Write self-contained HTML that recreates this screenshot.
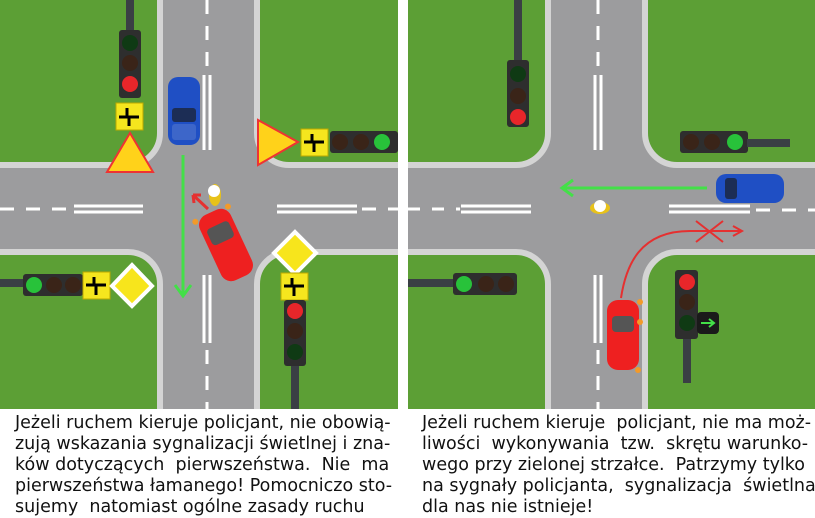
<!DOCTYPE html>
<html><head><meta charset="utf-8"><style>
html,body{margin:0;padding:0;background:#fff;width:815px;height:518px;overflow:hidden}
.t{position:absolute;font-family:"DejaVu Sans","Liberation Sans",sans-serif;font-size:17.5px;line-height:21px;color:#111;white-space:pre}
</style></head><body>
<svg width="815" height="518" style="position:absolute;left:0;top:0" xmlns="http://www.w3.org/2000/svg">
<defs>
<clipPath id="cl"><rect x="0" y="0" width="398" height="409"/></clipPath>
<clipPath id="cr"><rect x="408" y="0" width="407" height="409"/></clipPath>
</defs>

<!-- LEFT PANEL -->
<g clip-path="url(#cl)">
<rect x="0" y="0" width="398" height="409" fill="#9c9c9e"/>
<g fill="#5c9f35" stroke="#d4d4d4" stroke-width="6">
<rect x="-60" y="-60" width="220" height="225" rx="32"/>
<rect x="257" y="-60" width="220" height="225" rx="32"/>
<rect x="-60" y="252" width="220" height="220" rx="32"/>
<rect x="257" y="252" width="220" height="220" rx="32"/>
</g>
<g stroke="#fff" stroke-width="3">
<line x1="207" y1="0" x2="207" y2="72" stroke-dasharray="14,12"/>
<line x1="204" y1="75" x2="204" y2="150"/><line x1="210" y1="75" x2="210" y2="150"/>
<line x1="204" y1="275" x2="204" y2="343"/><line x1="210" y1="275" x2="210" y2="343"/>
<line x1="207" y1="350" x2="207" y2="409" stroke-dasharray="14,12"/>
<line x1="0" y1="209" x2="70" y2="209" stroke-dasharray="14,12"/>
<line x1="74" y1="206" x2="143" y2="206"/><line x1="74" y1="212" x2="143" y2="212"/>
<line x1="277" y1="206" x2="357" y2="206"/><line x1="277" y1="212" x2="357" y2="212"/>
<line x1="362" y1="209" x2="398" y2="209" stroke-dasharray="14,12"/>
</g>
<rect x="126" y="0" width="8" height="32" fill="#3a3f44"/>
<rect x="119" y="30" width="22" height="68" rx="3" fill="#2e2e2e"/>
<circle cx="130" cy="43" r="8" fill="#0f3a14"/><circle cx="130" cy="63" r="8" fill="#3a2418"/><circle cx="130" cy="84" r="8" fill="#e8262a"/>
<rect x="116" y="103" width="27" height="27" fill="#f5e61e" stroke="#bba800"/>
<path d="M129 126V117H139M119 117H127V108" stroke="#000" stroke-width="3" fill="none"/>
<polygon points="130,133 107,172 153,172" fill="#ffd21a" stroke="#e33" stroke-width="2"/>
<rect x="168" y="77" width="32" height="68" rx="10" fill="#1f4fc4"/>
<rect x="172" y="108" width="24" height="14" rx="3" fill="#1c2d55"/>
<rect x="172" y="124" width="24" height="16" rx="3" fill="#3d66c9"/>
<polygon points="298,142 258,120 258,165" fill="#ffd21a" stroke="#e33" stroke-width="2"/>
<rect x="301" y="129" width="27" height="27" fill="#f5e61e" stroke="#bba800"/>
<path d="M314 152V142H324M304 142H312V134" stroke="#000" stroke-width="3" fill="none"/>
<rect x="330" y="131" width="68" height="22" rx="3" fill="#2e2e2e"/>
<circle cx="340" cy="142" r="8" fill="#3a2418"/><circle cx="361" cy="142" r="8" fill="#3a2418"/><circle cx="382" cy="142" r="8" fill="#28c23a"/>
<path d="M183 155V295M175 285L183 296L191 285" stroke="#43e048" stroke-width="3" fill="none"/>
<ellipse cx="215" cy="195" rx="6" ry="11" fill="#e8c21a"/><circle cx="214" cy="191" r="6" fill="#fff"/>
<path d="M208 209L193 195M193 195L194 203M193 195L201 195" stroke="#e53030" stroke-width="3" fill="none"/>
<g transform="translate(226,245) rotate(-25)">
<rect x="-17" y="-36" width="34" height="72" rx="11" fill="#ee2020"/>
<rect x="-12" y="-22" width="24" height="18" rx="4" fill="#555"/>
<circle cx="-18" cy="-34" r="3" fill="#f29a2a"/><circle cx="18" cy="-34" r="3" fill="#f29a2a"/>
</g>
<rect x="0" y="279" width="25" height="8" fill="#3a3f44"/>
<rect x="23" y="274" width="60" height="22" rx="3" fill="#2e2e2e"/>
<circle cx="34" cy="285" r="8" fill="#28c23a"/><circle cx="54" cy="285" r="8" fill="#3a2418"/><circle cx="73" cy="285" r="8" fill="#3a2418"/>
<rect x="83" y="272" width="27" height="27" fill="#f5e61e" stroke="#bba800"/>
<path d="M96 295V285H106M86 285H94V277" stroke="#000" stroke-width="3" fill="none"/>
<polygon points="132,265 152,286 132,306 112,286" fill="#f7e51c" stroke="#fff" stroke-width="4"/>
<polygon points="295,232 316,253 295,274 274,253" fill="#f7e51c" stroke="#fff" stroke-width="4"/>
<rect x="281" y="273" width="27" height="27" fill="#f5e61e" stroke="#bba800"/>
<path d="M294 296V286H304M284 286H292V278" stroke="#000" stroke-width="3" fill="none"/>
<rect x="284" y="300" width="22" height="66" rx="3" fill="#2e2e2e"/>
<circle cx="295" cy="311" r="8" fill="#e8262a"/><circle cx="295" cy="331" r="8" fill="#3a2418"/><circle cx="295" cy="352" r="8" fill="#0f3a14"/>
<rect x="291" y="366" width="8" height="43" fill="#3a3f44"/>
</g>

<!-- RIGHT PANEL -->
<g clip-path="url(#cr)">
<rect x="408" y="0" width="407" height="409" fill="#9c9c9e"/>
<g fill="#5c9f35" stroke="#d4d4d4" stroke-width="6">
<rect x="350" y="-60" width="198" height="225" rx="32"/>
<rect x="645" y="-60" width="220" height="225" rx="32"/>
<rect x="350" y="252" width="198" height="220" rx="32"/>
<rect x="645" y="252" width="220" height="220" rx="32"/>
</g>
<g stroke="#fff" stroke-width="3">
<line x1="598" y1="0" x2="598" y2="68" stroke-dasharray="14,12"/>
<line x1="595" y1="75" x2="595" y2="150"/><line x1="601" y1="75" x2="601" y2="150"/>
<line x1="595" y1="275" x2="595" y2="343"/><line x1="601" y1="275" x2="601" y2="343"/>
<line x1="598" y1="350" x2="598" y2="409" stroke-dasharray="14,12"/>
<line x1="408" y1="209" x2="460" y2="209" stroke-dasharray="12,12"/>
<line x1="461" y1="206" x2="531" y2="206"/><line x1="461" y1="212" x2="531" y2="212"/>
<line x1="669" y1="206" x2="750" y2="206"/><line x1="669" y1="212" x2="750" y2="212"/>
<line x1="756" y1="210" x2="815" y2="210" stroke-dasharray="14,12"/>
</g>
<rect x="514" y="0" width="8" height="62" fill="#3a3f44"/>
<rect x="507" y="60" width="22" height="67" rx="3" fill="#2e2e2e"/>
<circle cx="518" cy="74" r="8" fill="#0f3a14"/><circle cx="518" cy="96" r="8" fill="#3a2418"/><circle cx="518" cy="117" r="8" fill="#e8262a"/>
<rect x="680" y="131" width="68" height="22" rx="3" fill="#2e2e2e"/>
<circle cx="691" cy="142" r="8" fill="#3a2418"/><circle cx="712" cy="142" r="8" fill="#3a2418"/><circle cx="735" cy="142" r="8" fill="#28c23a"/>
<rect x="747" y="139" width="43" height="8" fill="#3a3f44"/>
<rect x="716" y="174" width="68" height="29" rx="10" fill="#1f4fc4"/>
<rect x="725" y="178" width="12" height="21" rx="3" fill="#1c2d55"/>
<path d="M707 188H563M573 180L562 188L573 196" stroke="#43e048" stroke-width="3" fill="none"/>
<ellipse cx="600" cy="208" rx="10" ry="6" fill="#e8c21a"/><circle cx="600" cy="206" r="6" fill="#fff"/>
<path d="M621 298C626 265 640 231 690 231H741M733 226L742 231L733 236" stroke="#e53030" stroke-width="2" fill="none"/>
<path d="M696 221L723 242M723 221L696 242" stroke="#e53030" stroke-width="2"/>
<rect x="607" y="300" width="32" height="70" rx="11" fill="#ee2020"/>
<rect x="612" y="316" width="22" height="16" rx="4" fill="#555"/>
<circle cx="640" cy="302" r="3" fill="#f29a2a"/><circle cx="640" cy="322" r="3" fill="#f29a2a"/><circle cx="638" cy="370" r="3" fill="#f29a2a"/>
<rect x="408" y="279" width="46" height="8" fill="#3a3f44"/>
<rect x="453" y="273" width="64" height="22" rx="3" fill="#2e2e2e"/>
<circle cx="464" cy="284" r="8" fill="#28c23a"/><circle cx="486" cy="284" r="8" fill="#3a2418"/><circle cx="506" cy="284" r="8" fill="#3a2418"/>
<rect x="675" y="270" width="23" height="69" rx="3" fill="#2e2e2e"/>
<circle cx="687" cy="282" r="8" fill="#e8262a"/><circle cx="687" cy="302" r="8" fill="#3a2418"/><circle cx="687" cy="323" r="8" fill="#0f3a14"/>
<rect x="697" y="312" width="22" height="22" rx="4" fill="#1a1a1a"/>
<path d="M701 323H713M709 319L714 323L709 327" stroke="#43e048" stroke-width="2" fill="none"/>
<rect x="683" y="339" width="8" height="44" fill="#3a3f44"/>
</g>
</svg>
<div class="t" style="left:15px;top:413px">Jeżeli ruchem kieruje policjant, nie obowią-
zują wskazania sygnalizacji świetlnej i zna-
ków dotyczących  pierwszeństwa.  Nie  ma
pierwszeństwa łamanego! Pomocniczo sto-
sujemy  natomiast ogólne zasady ruchu</div>
<div class="t" style="left:422px;top:413px">Jeżeli ruchem kieruje  policjant, nie ma moż-
liwości  wykonywania  tzw.  skrętu warunko-
wego przy zielonej strzałce.  Patrzymy tylko
na sygnały policjanta,  sygnalizacja  świetlna
dla nas nie istnieje!</div>
</body></html>
